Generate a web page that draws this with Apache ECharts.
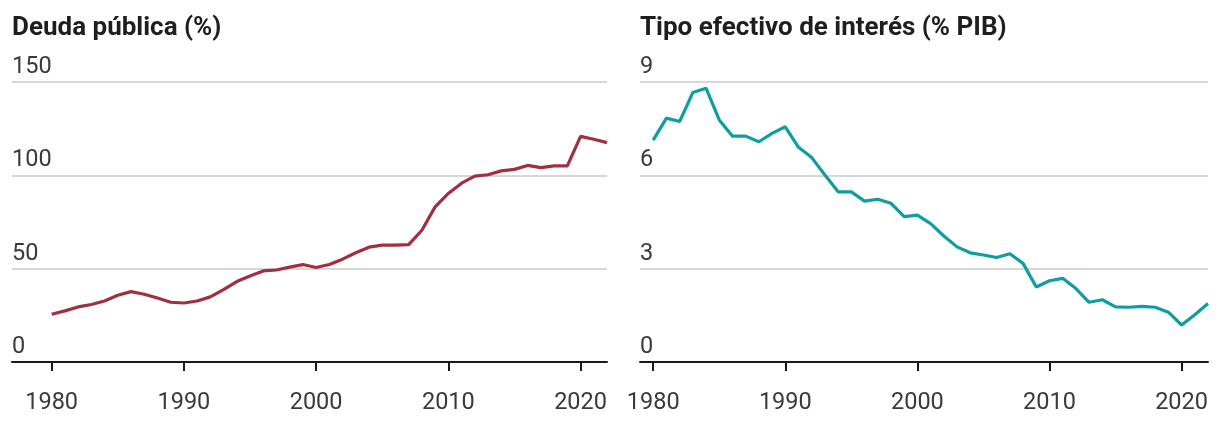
<!DOCTYPE html>
<html>
<head>
<meta charset="utf-8">
<script src="https://cdn.jsdelivr.net/npm/echarts@6/dist/echarts.min.js"></script>
<style>
html,body{margin:0;padding:0;background:#fff;}
#chart{width:1220px;height:422px;}
</style>
</head>
<body>
<div id="chart"></div>
<script>
// ---- data ----
const years = [1980,1981,1982,1983,1984,1985,1986,1987,1988,1989,1990,1991,1992,1993,1994,1995,1996,1997,1998,1999,2000,2001,2002,2003,2004,2005,2006,2007,2008,2009,2010,2011,2012,2013,2014,2015,2016,2017,2018,2019,2020,2021,2022];
const deuda = [25.6,27.4,29.5,30.8,32.7,35.8,37.7,36.3,34.3,32.0,31.6,32.7,34.9,38.8,43.1,46.1,48.8,49.3,50.8,52.2,50.6,52.2,55.1,58.5,61.5,62.6,62.6,62.9,70.6,83.1,90.3,95.8,99.6,100.3,102.4,103.2,105.3,104.1,105.1,105.1,120.9,119.3,117.5];
const interes = [7.13,7.84,7.73,8.66,8.80,7.78,7.26,7.26,7.08,7.35,7.56,6.90,6.57,6.01,5.47,5.47,5.17,5.23,5.10,4.67,4.72,4.45,4.05,3.70,3.51,3.44,3.36,3.48,3.17,2.41,2.61,2.69,2.36,1.92,2.00,1.77,1.76,1.79,1.76,1.60,1.19,1.52,1.88];
const xTicks = [1980,1990,2000,2010,2020];
const deudaTicks = [0,50,100,150];
const interesTicks = [0,3,6,9];
const titles = ['Deuda pública (%)','Tipo efectivo de interés (% PIB)'];

const FONT = 'Roboto';
const chart = echarts.init(document.getElementById('chart'), null, {renderer:'canvas'});

function xAxis(gi, min){
  return {
    type:'value', gridIndex:gi, min:min, max:2022,
    axisLine:{show:true, onZero:false, lineStyle:{color:'#1a1a1a', width:2}},
    axisTick:{show:true, length:9, lineStyle:{color:'#1a1a1a', width:2}, customValues:xTicks},
    axisLabel:{customValues:xTicks, margin:29, fontFamily:FONT, fontSize:23.5, color:'#3a3a3a',
      formatter:v=>String(v)},
    splitLine:{show:false}
  };
}
function yAxis(gi, max, interval, ticks){
  return {
    type:'value', gridIndex:gi, min:0, max:max, interval:interval,
    axisLine:{show:false}, axisTick:{show:false},
    axisLabel:{inside:true, margin:0, align:'left', verticalAlign:'bottom', padding:[0,0,3,0],
      fontFamily:FONT, fontSize:23.5, color:'#3a3a3a', customValues:ticks, formatter:v=>String(v)},
    splitLine:{show:true, lineStyle:{color:'#d6d6d6', width:2}}
  };
}

chart.setOption({
  animation:false,
  title:[
    {text:titles[0], left:12, top:15, padding:0, textStyle:{fontFamily:FONT, fontSize:26, fontWeight:'bold', color:'#1e1e1e'}},
    {text:titles[1], left:640, top:15, padding:0, textStyle:{fontFamily:FONT, fontSize:26, fontWeight:'bold', color:'#1e1e1e'}}
  ],
  grid:[
    {left:12, right:613, top:82, bottom:60},
    {left:640, right:12, top:82, bottom:60}
  ],
  xAxis:[xAxis(0,1977), xAxis(1,1979)],
  yAxis:[yAxis(0,150,50,deudaTicks), yAxis(1,9,3,interesTicks)],
  series:[
    {type:'line', xAxisIndex:0, yAxisIndex:0, data:years.map((y,i)=>[y,deuda[i]]),
     showSymbol:false, lineStyle:{color:'#a0303f', width:3.2}, itemStyle:{color:'#a0303f'}},
    {type:'line', xAxisIndex:1, yAxisIndex:1, data:years.map((y,i)=>[y,interes[i]]),
     showSymbol:false, lineStyle:{color:'#0e9da4', width:3.2}, itemStyle:{color:'#0e9da4'}}
  ]
});
</script>
</body>
</html>
